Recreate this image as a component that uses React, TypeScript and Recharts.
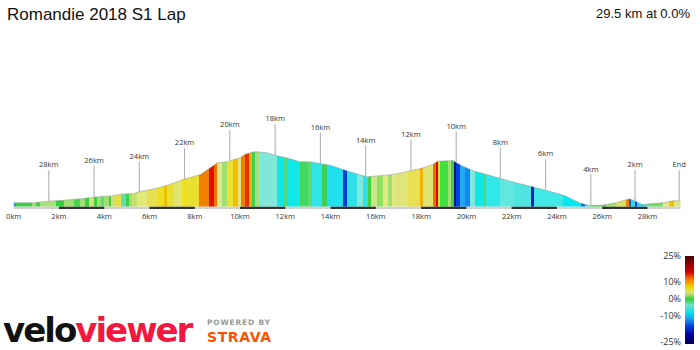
import React from 'react';
import { ComposedChart, Area, Scatter, XAxis, YAxis, ReferenceArea } from 'recharts';

// elevation profile, km from start / metres
const distances = [
  0, 0.9, 1.5, 2.07, 2.95, 3.53, 3.97, 4.28, 4.72, 5.3, 5.6, 6.2, 6.8, 7.58, 8.25, 8.69, 8.99,
  9.43, 9.6, 10.0, 10.2, 10.6, 10.8, 11.2, 11.6, 12.06, 12.65, 13.1, 13.6, 13.98, 14.55, 14.86,
  15.6, 16.3, 16.75, 17.6, 18.08, 18.5, 18.74, 19.4, 19.57, 19.85, 20.3, 20.9, 21.56, 22.2,
  22.93, 23.55, 24.3, 25.0, 25.44, 26.0, 26.6, 27.2, 27.4, 27.78, 28.1, 28.66, 29.2, 29.46,
];
const elevations = [
  461, 461, 466, 468, 473, 478, 481, 481, 487, 489, 495, 503, 514, 533, 546, 566, 581,
  584, 588, 596, 606, 614, 614, 611, 603, 596, 584, 584, 578, 574, 561, 554,
  539, 543, 546, 558, 566, 576, 586, 588, 581, 571, 557, 546, 533, 521,
  509, 498, 484, 461, 453, 454, 461, 473, 468, 456, 458, 461, 468, 466,
];

// distance-to-go markers
const markerKm = [1.55, 3.55, 5.55, 7.55, 9.55, 11.55, 13.55, 15.55, 17.55, 19.55, 21.5, 23.5, 25.5, 27.45, 29.4];
const markerElev = [466, 478, 492, 532, 587, 604, 579, 540, 557, 582, 534, 499, 453, 467, 466];
const markerLabels = ['28km', '26km', '24km', '22km', '20km', '18km', '16km', '14km', '12km', '10km', '8km', '6km', '4km', '2km', 'End'];

const tickKm = [0, 2, 4, 6, 8, 10, 12, 14, 16, 18, 20, 22, 24, 26, 28];

// gradient colour bands: end km of each band and its colour
const bandEnds = [
  0.09, 0.82, 0.97, 1.16, 1.85, 2.22, 2.66, 2.95, 3.17, 3.32, 3.54, 3.69, 3.84, 3.98, 4.2, 4.31,
  4.5, 4.72, 4.94, 5.09, 5.23, 5.45, 5.89, 6.34, 6.63, 6.77, 7.07, 7.44, 7.66, 8.17, 8.61, 8.83,
  8.98, 9.2, 9.42, 9.71, 9.89, 10.04, 10.23, 10.38, 10.52, 10.67, 10.82, 11.63, 11.92, 12.1,
  12.65, 13.02, 13.17, 13.61, 13.83, 14.57, 14.71, 15.15, 15.45, 15.67, 15.77, 16.03, 16.33,
  16.55, 16.7, 16.84, 17.4, 17.95, 18.09, 18.53, 18.65, 18.75, 18.83, 19.19, 19.34, 19.45,
  19.56, 19.71, 19.93, 20.15, 20.37, 20.74, 20.88, 21.47, 22.1, 22.87, 22.97, 24.26, 25.07,
  25.22, 25.44, 26.17, 26.62, 27.06, 27.2, 27.28, 27.43, 27.53, 27.87, 28.09, 28.68, 28.97,
  29.19, 29.46,
];
const bandColors = [
  '#2a9df0', '#3cd04a', '#9de070', '#3cd04a', '#a8e07a', '#2ed43a', '#9ee070', '#44d84a',
  '#a0e070', '#3ad040', '#cfe070', '#3ad040', '#9ee070', '#55d890', '#a0e070', '#3ad040',
  '#d2e070', '#e6e040', '#60dcb0', '#3ad040', '#9ee070', '#c8e070', '#e0e878', '#e8e050',
  '#eae020', '#f0c000', '#e8e030', '#e0e470', '#ece020', '#e8e030', '#f08000', '#e01000',
  '#f07000', '#d8e88a', '#a0e070', '#ece030', '#f0c000', '#e4e480', '#f08000', '#e83000',
  '#f0b000', '#40d050', '#a0e080', '#80e8d8', '#10e8e8', '#50d880',
  '#10e8e8', '#40d860', '#60d870', '#30e4e8', '#40d050', '#20e0f0', '#0040d0', '#30e0e8',
  '#80e8d8', '#30e0e8', '#40d040', '#c8e888', '#90e060',
  '#e0e880', '#a0e070', '#e0e880', '#dfe57a', '#e8e050', '#f0b000', '#e0e470', '#f07000',
  '#e00000', '#eae020', '#40e040', '#a0e070', '#40d040',
  '#001090', '#0040e0', '#20a8f0', '#1088f0', '#80e8d8', '#10e8e8', '#50d880', '#30e8e8',
  '#60e8e0', '#50e4e0', '#0020c0', '#40e8e8', '#00e8f0',
  '#0070e0', '#20e0f0', '#40d040', '#a0e070', '#d8e060', '#f08000', '#1060e0', '#30d8f0',
  '#0040e0', '#20e0f0', '#60e0c0', '#70dc60', '#e0e880',
  '#f0c000', '#e0e880',
];

const legendLabels = ['25%', '10%', '0%', '-10%', '-25%'];
const legendTops = [256, 281.7, 299.3, 316, 341.7];

const profile = distances.map((km, i) => ({ km, elev: elevations[i] }));
const markers = markerKm.map((km, i) => ({ km, elev: markerElev[i], label: markerLabels[i] }));
const lastKm = distances[distances.length - 1];
const blackStrips = tickKm.filter((_, i) => i % 2 === 1);

const MarkerShape = (props: any) => {
  const { cx, cy, payload } = props;
  return (
    <g>
      <line x1={cx} x2={cx} y1={cy} y2={cy - 31} stroke="#aaa" strokeWidth={1} />
      <text x={cx} y={cy - 34} textAnchor="middle" fontSize={7.5} fill="#333" fontFamily="Open Sans">
        {payload.label}
      </text>
    </g>
  );
};

const legendGradient =
  'linear-gradient(to bottom, #4a0000 0%, #d00000 18%, #ff8000 27%, #e8e000 36%, #d8e080 42%, #30d030 49%, #70e0d0 56%, #00e0f0 65%, #20a0f0 71%, #0040e0 80%, #0000a0 89%, #000050 100%)';

export default function App() {
  return (
    <div style={{ position: 'relative', width: 700, height: 350, background: '#fff', fontFamily: 'Liberation Sans, Arial, sans-serif' }}>
      <style>{'body{margin:0}'}</style>
      <svg width={0} height={0} style={{ position: 'absolute' }}>
        <defs>
          <linearGradient id="gradeFill" x1="0" y1="0" x2="1" y2="0">
            {bandEnds.map((end, i) => {
              const start = i === 0 ? 0 : bandEnds[i - 1];
              return (
                <React.Fragment key={i}>
                  <stop offset={start / lastKm} stopColor={bandColors[i]} />
                  <stop offset={end / lastKm} stopColor={bandColors[i]} />
                </React.Fragment>
              );
            })}
          </linearGradient>
        </defs>
      </svg>

      <div style={{ position: 'absolute', left: 7, top: 6, fontSize: 17, lineHeight: '17px', color: '#111' }}>
        Romandie 2018 S1 Lap
      </div>
      <div style={{ position: 'absolute', right: 10, top: 7, fontSize: 13, lineHeight: '13px', color: '#111' }}>
        29.5 km at 0.0%
      </div>

      <ComposedChart
        width={700}
        height={350}
        data={profile}
        margin={{ top: 100, right: 18.6, bottom: 111, left: 13.7 }}
      >
        <XAxis
          dataKey="km"
          type="number"
          domain={[0, 29.5]}
          ticks={tickKm}
          tickFormatter={(v) => `${v}km`}
          axisLine={false}
          tickLine={false}
          tickSize={0}
          tickMargin={5}
          height={30}
          interval={0}
          tick={{ fontSize: 7.5, fill: '#333', fontFamily: 'Open Sans' }}
        />
        <YAxis type="number" domain={[442.5, 769.5]} hide width={0} allowDataOverflow />
        <ReferenceArea x1={0} x2={lastKm} y1={442.5} y2={450} fill="#cfcfcf" fillOpacity={1} stroke="none" />
        {blackStrips.map((k) => (
          <ReferenceArea key={k} x1={k} x2={k + 2} y1={442.5} y2={450} fill="#333" fillOpacity={1} stroke="none" />
        ))}
        <Area
          type="linear"
          dataKey="elev"
          baseValue={450}
          fill="url(#gradeFill)"
          fillOpacity={1}
          stroke="#999"
          strokeOpacity={0.5}
          strokeWidth={1}
          isAnimationActive={false}
        />
        <Scatter data={markers} dataKey="elev" shape={MarkerShape} isAnimationActive={false} />
      </ComposedChart>

      {legendLabels.map((l, i) => (
        <div
          key={l}
          style={{
            position: 'absolute',
            right: 700 - 681,
            top: legendTops[i] - 6,
            fontSize: 9,
            lineHeight: '12px',
            color: '#333',
            fontFamily: 'Open Sans',
          }}
        >
          {l}
        </div>
      ))}
      <div style={{ position: 'absolute', left: 685, top: 256, width: 9, height: 88, background: legendGradient }} />

      <div
        style={{
          position: 'absolute',
          left: 3,
          top: 313,
          fontSize: 34,
          lineHeight: '34px',
          fontWeight: 'bold',
          fontFamily: 'DejaVu Sans',
          letterSpacing: -2,
          whiteSpace: 'nowrap',
        }}
      >
        <span style={{ color: '#111' }}>velo</span>
        <span style={{ color: '#f2183f' }}>viewer</span>
      </div>
      <div
        style={{
          position: 'absolute',
          left: 207,
          top: 319,
          fontSize: 7.5,
          lineHeight: '8px',
          fontWeight: 'bold',
          fontFamily: 'DejaVu Sans',
          letterSpacing: 0.8,
          color: '#999',
        }}
      >
        POWERED BY
      </div>
      <div
        style={{
          position: 'absolute',
          left: 207,
          top: 330,
          fontSize: 14,
          lineHeight: '14px',
          fontWeight: 'bold',
          fontFamily: 'DejaVu Sans',
          letterSpacing: 0.6,
          color: '#fc5200',
        }}
      >
        STRAVA
      </div>
</div>
  );
}
